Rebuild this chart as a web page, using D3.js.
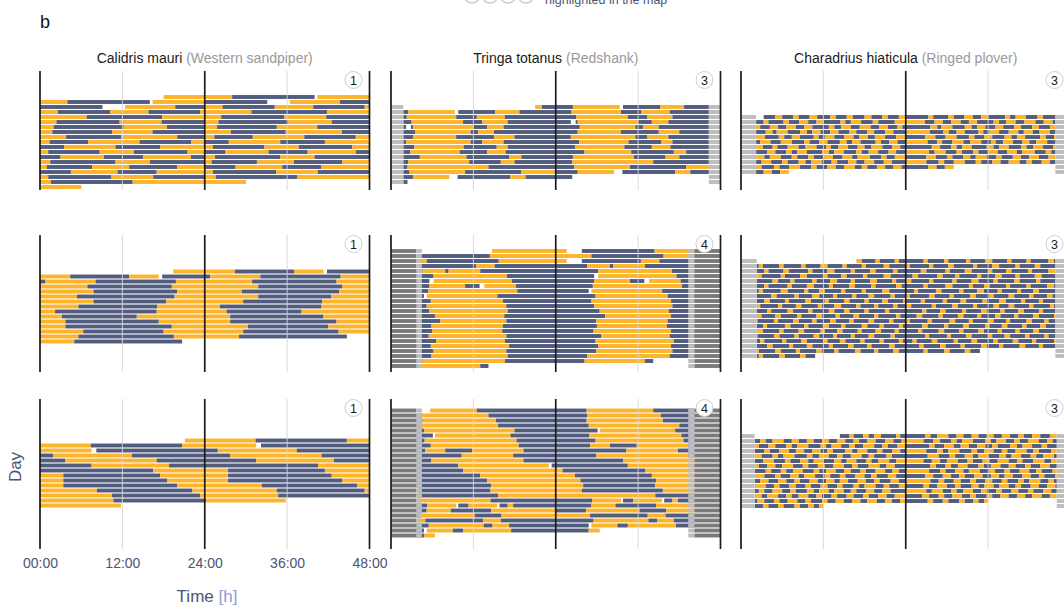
<!DOCTYPE html>
<html>
<head>
<meta charset="utf-8">
<script src="https://cdn.jsdelivr.net/npm/d3@7"></script>
<style>
  body { margin: 0; background: #fff; }
  svg { display: block; }
  text { font-family: "Liberation Sans", Arial, sans-serif; }
</style>
</head>
<body>
<svg id="chart" width="1064" height="607"></svg>
<script>
// Each day: run-length tokens "<state><end hour>", state o = active, b = resting, - = no data.
// Rows are double-plotted: row k shows day k (0-24 h) followed by day k+1 (24-48 h).

const calidrisA = [
  "-18 o24",
  "o4 b16 -16.4 o24",
  "b9.1 -12.4 o19.7 b24",
  "o2.6 b10.2 o15.8 b23.3 o24",
  "o6.8 b17.8 o24",
  "o2.4 b11.6 o17.7 b24",
  "o2 b12.2 o18.5 b24",
  "o1.8 b10.5 o16.4 b24",
  "o3.8 b11.8 o20 b24",
  "o1.4 b7 o14.5 b22 o24",
  "b3.5 o11 b17.5 o24",
  "o1.2 b8.7 o13.7 b21.5 o24",
  "b3 o9.3 b15 o22 b24",
  "o1.5 b11 o16 b24",
  "o1 b7.6 o13 b20 o24",
  "b4.5 o11.3 b17 o24",
  "o1.2 b10.4 o16.5 b24",
  "o1.6 b13.5 o24",
  "o6"
];
const calidrisB = [
  "-19.4 o24",
  "o4.4 b13 o17.3 -17.8 b24",
  "b0.8 o8.1 b19.8 o24",
  "o6.9 b19.2 o24",
  "o7.8 b20 o24",
  "o5.4 b19.6 o24",
  "o7.8 b18.4 o24",
  "o5.6 b17.1 o24",
  "o2.2 b17 o24",
  "o3.2 b14.1 o24",
  "o3.7 b17.3 o24",
  "o3.7 b19.2 o24",
  "o6.3 b18 o24",
  "o5.6 b19.5 o24",
  "o5 b20.7"
];
const calidrisC = [
  "-21.1 o24",
  "o7.4 b20.7 o24",
  "o7.5 -8.2 b24",
  "b1.9 o13.4 b24",
  "b3.7 o17 b24",
  "b7.5 o18.8 b24",
  "b16.5 o24",
  "o3.4 b17.5 o24",
  "o3.4 b18.5 o24",
  "o3.4 b20 o24",
  "o8.3 b22.2 o24",
  "o10.5 b23.3 o24",
  "o10.7 b24",
  "b0.2 o11.8"
];

const tringaA = [
  "-21 o22 b24",
  "b2.5 o9.3 -9.8 b15.2 o18.7 b24",
  "b2.3 o9.5 b12.5 o16.6 b24",
  "b3 o10.5 b13.3 o17 b24",
  "b2.2 -2.9 b3.2 o12 b14 o16.4 b24",
  "b3.5 o11.6 b12.7 o15 b24",
  "b3.2 o9.5 b15 o18 b24",
  "b2.2 o11.6 b13.3 o16.4 b24",
  "b3.4 o10.6 b15.4 o17 b24",
  "b2.8 o10 b14 o16.7 b24",
  "b4.2 o11 b17.2 o19 b24",
  "b2.5 o11.4 b16 o18 b24",
  "b2.4 o14.2 b24",
  "b2.7 o10.8 b19 o24",
  "b3.2 o8.5 -9.7 b17.4 o19.6 b24",
  "b2.4"
];
const tringaB = [
  "-14.7 o24",
  "o1.6 -3.8 b14.4 o24",
  "o5.2 b15.7 o24",
  "o1.6 -3.8 b12.4 o15.1 b24",
  "b4.6 o7.9 b8.4 o13 b24",
  "b6.2 o16.9 b24",
  "b5.6 -6.2 o17.6 b24",
  "b5.6 o10.8 b12.9 -13.6 o18.2 b24",
  "b5.4 o18.4 b24",
  "b4.8 -5.2 o15.5 b24",
  "b5.8 o16.3 b24",
  "b5.2 o16.8 b24",
  "b5.6 o17 b24",
  "b6.4 o16.5 b24",
  "b7.2 o16.8 b24",
  "b5.9 o16.3 b24",
  "b6 o16.2 b24",
  "b5.5 o16.8 b24",
  "b6.6 o16.6 b24",
  "b5.8 o17.2 b24",
  "b6.2 o16.8 b24",
  "b5.9 o17 b24",
  "b4.6 o16.6 b24",
  "b4.2 o13 b14.2"
];
const tringaC = [
  "-5.7 o12.5 b24",
  "b4.5 o14.2 b24",
  "b4.6 o15.3 b24",
  "b4.5 o15.6 b24",
  "b4.8 o18 b24",
  "b6.1 -6.4 o17.4 b24",
  "b4.9 o18.3 b24",
  "b5.8 o18.6 b24",
  "b5 o7.9 b11.8 o19.3 b24",
  "b10.3 o17.8 b24",
  "b5.9 o19.3 b24",
  "b9.8 o23 -23.4 b24",
  "b10.5 o24",
  "o1 b13 o24",
  "o2.8 b14 o24",
  "o3.6 b14.6 o24",
  "o4 b14.5 o24",
  "o3.8 b15.6 o24",
  "o14.5 b24",
  "b5.3 o9.5 -9.8 b11.3 o15.5 -15.8 b17 o17.8 b24",
  "b5.2 o8.7 b14.6 o24",
  "b4.4 o12.2 b16.1 o24",
  "o5 b13.4 o16 b24",
  "b5.5 o13.5 b14.8 o17.2 b24",
  "b4.8 -5.2 o9 b10.5 o17.5 b24",
  "b4.8 o6.4"
];

const charadriusA = [
  "-3.3 b5 o6 b7.6 o8.4 b10 o11.1 b13 o13.8 b15.4 o16.3 b18 o19 b20.6 o21.4 b23 o24",
  "b3.3 o4 b6.2 o7 b8.5 o9.8 b11 o12 b14.5 o15.2 b16 o17.5 b19.2 o20 b22.4 o24",
  "o2.8 b4.2 o5.4 b6.6 o8 b9.2 o10.4 b12.8 o13.6 b14.6 o16 b17.3 o18.9 b20.1 o21.4 b22.8 o23.5 b24",
  "b3.6 o4.6 b5.2 o6.8 b8.6 o9.6 b10.4 o11.6 b13 o14.2 b15.8 o16.8 b18.4 o19.4 b21 o22.2 b24",
  "o3.5 b5.5 o6.3 b7.4 o8.6 b10.6 o11.3 b12.2 o13.6 b15 o16.4 b17.2 o18.5 b19.5 o21 b22.6 o24",
  "b2.8 o4.3 b5.8 o7.4 b9.2 o10 b11.4 o12.6 b14.4 o15.4 b16.2 o17.4 b19.6 o20.4 b21.6 o22.8 b24",
  "o3.2 b4.6 o5.3 b6.8 o8.4 b9.4 o11 b12.4 o13.1 b14.2 o15.6 b17 o18 b19 o20.6 b22 o23.2 b24",
  "b3.8 o5 b6.6 o7.4 b8.2 o9.6 b11.8 o12.8 b13.6 o15 b16.8 o17.6 b18.6 o20 b21.5 o22.6 b24",
  "o3.4 b4.2 o5.8 b7.4 o8.2 b9.8 o10.6 b12 o13.4 b14.8 o16.2 b17 o18.8 b20.4 o21.2 b22.4 o24",
  "b3 o4.4 b6 o6.8 b8.4 o9.4 b10.2 o11.8 b13.2 o14 b15.6 o16.8 b18 o19.4 b20.8 o22 b24",
  "o3 b4.8 o5.6 b7 o8.6 b10.2 o11 b12.6 o13.8 b15 o16.6 b17.6 o18.4 b19.8 o21 b22.2 o23.4 b24",
  "b3.3 o4.5 b5.7 o7"
];
const charadriusB = [
  "-16.8 o17.6 b19.6 o20.2 b22.4 o23 b24",
  "b2.6 o3.2 b5.6 o6.2 b8.8 o9.4 b11.6 o12.6 b14.8 o15.4 b17.6 o18.2 b20.8 o21.6 b24",
  "o0.6 b3.4 o4 b6.2 o7 b9.8 o10.4 b12.6 o13.6 b16 o16.6 b18.8 o19.6 b22.2 o22.8 b24",
  "b2.2 o3 b5.8 o6.4 b8.6 o9.6 b12 o12.6 b14.6 o15.4 b17.8 o18.4 b20.8 o21.8 b24",
  "b1 o1.8 b4.6 o5.4 b7.2 o7.8 b10.4 o11 b13 o14 b16 o16.6 b18.8 o19.8 b22 o22.6 b24",
  "o0.8 b3.4 o4 b6.8 o7.4 b9.6 o10.6 b12.8 o13.4 b15.8 o16.6 b19 o19.6 b22.6 o23.4 b24",
  "b2.6 o3.2 b5.8 o6.8 b9.2 o9.8 b11.4 o12.2 b14.6 o15.2 b17.6 o18.2 b20.6 o21.6 b24",
  "b1.2 o1.8 b4.4 o5.2 b7.8 o8.4 b10.4 o11.4 b13.4 o14 b16.2 o16.8 b18.6 o19.4 b21.8 o22.4 b24",
  "o0.6 b3.4 o4.2 b6.4 o7 b9.4 o10.2 b12.2 o12.8 b15 o15.8 b18 o18.6 b20.6 o21.4 b23.6 o24",
  "b2.2 o2.8 b5.4 o6 b8 o8.8 b11.2 o11.8 b13.6 o14.6 b16.8 o17.4 b19.4 o20 b22.2 o22.8 b24",
  "o0.8 b3.8 o4.4 b6.8 o7.6 b9.8 o10.4 b12.8 o13.6 b15 o15.8 b18 o18.6 b21 o21.6 b24",
  "b2.4 o3 b5 o5.8 b8.2 o8.8 b11 o11.8 b13.8 o14.4 b16.4 o17.2 b19.4 o20 b22.6 o23.2 b24",
  "b1.6 o2.4 b4.8 o5.4 b7.6 o8.4 b10.4 o11 b13 o13.8 b15.8 o16.4 b18.6 o19.4 b21.6 o22.2 b24",
  "o0.6 b3.2 o3.8 b6.4 o7.2 b9.2 o9.8 b12 o12.8 b14.6 o15.2 b17.6 o18.4 b20.2 o20.8 b23 o23.6 b24",
  "b2.4 o3.2 b5.6 o6.2 b8.4 o9.2 b11.6 o12.2 b14 o14.8 b17 o17.6 b19.6 o20.4 b22.4 o23 b24",
  "b1.8 o2.4 b4.8 o5.6 b7.8 o8.4 b10.6 o11.4 b13.4 o14 b16 o16.6 b18.6 o19.4 b21.8 o22.4 b24",
  "b2.8 o3.4 b6 o6.6 b8.8 o9.6 b12 o12.6 b14.4 o15.2 b17.4 o18 b20.2 o20.8 b23 o23.6 b24",
  "b1 o1.6 b3.8 o4.6 b7 o7.6 b9.6 o10.4 b12.8 o13.4 b15.6 o16.4 b18.4 o19 b21.6 o22.4 b24",
  "b2 o2.6 b5 o5.8 b8 o8.6 b11 o11.8 b13.6 o14.2 b16.6 o17.4 b19.4 o20 b22.2 o23 b24",
  "b2.6 o3.2 b5.6 o6.4 b8.6 o9.4 b10.8"
];
const charadriusC = [
  "-14.4 b15.8 o16.4 b17.8 o18.6 b19.4 o20.4 b22.6 o23.2 b24",
  "b2.8 o3.6 b4.6 o6.2 b7.4 o8.4 b9.6 o10.6 b11.8 o12.8 b14 o15.2 b16.4 o17.2 b18.4 o19.6 b21 o22.2 b23.4 o24",
  "o2.6 b4 o5 b6.6 o7.4 b8.2 o9.8 b11.6 o12.4 b13.2 o14.6 b15.8 o16.6 b17.8 o19.4 b20.6 o21.4 b22.8 o24",
  "b3.4 o4.2 b5.6 o7 b8 o9.2 b10.4 o11.6 b12.6 o13.4 b15.2 o16.2 b17 o18.4 b19.8 o20.6 b22 o23.2 b24",
  "o3 b4.6 o5.4 b6.2 o7.8 b9.6 o10.4 b11.4 o12.8 b14 o14.8 b16 o17.6 b18.6 o19.4 b21.2 o22 b24",
  "b3.2 o4.8 b6.4 o7.2 b8.6 o9.8 b10.6 o12 b13.6 o14.6 b15.4 o16.8 b18.2 o19 b20 o21.6 b22.6 o24",
  "o2.6 b3.8 o5 b6 o7.6 b9 o9.8 b11.2 o12.2 b13.4 o15 b16.2 o17 b18.6 o20.2 b21.2 o22.4 b24",
  "b3.6 o4.4 b5.8 o6.6 b7.6 o9 b10.6 o11.4 b12.4 o13.8 b15 o16 b17.4 o18.2 b19.6 o21 b22 o23 b24",
  "o3.4 b5 o5.8 b7.2 o8.4 b9.2 o10.8 b12.2 o13 b14.4 o15.2 b16.6 o18 b19 o19.8 b21.4 o22.6 b24",
  "b2.8 o4 b5.4 o6.6 b7.8 o8.6 b10 o11.2 b12.4 o13.6 b14.4 o15.6 b17 o18.2 b19.4 o20.2 b21.8 o23 b24",
  "o3.6 b4.8 o5.6 b7 o8 b9.4 o10.2 b11.6 o12.6 b14 o14.8 b16.4 o17.2 b18 o19.6 b20.8 o21.6 b23 o24",
  "b2.6 o3.4 b4.6 o6 b7.2 o8 b9.6 o10.6 b11.4 o12.8 b13.6 o15 b16 o16.8 b18.2 o19.4 b20.6 o21.8 b24",
  "o3 b3.8 o5.4 b6.6 o7.4 b8.4 o9.8 b11 o11.8 b13.2 o14 b15.4 o16.4 b17.8 o18.6 b20 o21.2 b22.4 o24",
  "b2.4 o3.4 b4.8 o5.6 b6.8 o8.2 b9.4 o10.2 b11.8 o12.6 b13.8 o15 b16.2 o17.4 b18.4 o19.8 b21 o22 b23.2 o24",
  "b3.2 o4 b5.4 o6.2 b7.8 o8.6 b9.8 o10.6 b11.4 o12"
];

// Shaded spans drawn on every row, in hours: [kind, from, to]; g = light, d = dark.
const shadeTringaA = [["g", 0, 1.8], ["g", 46.3, 48]];
const shadeTringaBC = [["d", 0, 3.7], ["g", 3.7, 4.5], ["g", 43.3, 44.2], ["d", 44.2, 48]];
const shadeCharadriusA = [["g", 0, 2.2], ["g", 45.8, 48]];
const shadeCharadriusB = [["g", 0, 2.3], ["g", 45.8, 48]];
const shadeCharadriusC = [["g", 0, 2.0], ["g", 46.0, 48]];

const speciesNames = [
  ["Calidris mauri", "(Western sandpiper)"],
  ["Tringa totanus", "(Redshank)"],
  ["Charadrius hiaticula", "(Ringed plover)"]
];
const badgeNumbers = [[1, 3, 3], [1, 4, 3], [1, 4, 3]];
const tickHours = [0, 12, 24, 36, 48];
const tickLabels = ["00:00", "12:00", "24:00", "36:00", "48:00"];

// grid of panels: [row][col]
const panelData = [
  [calidrisA, tringaA, charadriusA],
  [calidrisB, tringaB, charadriusB],
  [calidrisC, tringaC, charadriusC]
];
const panelShade = [
  [[], shadeTringaA, shadeCharadriusA],
  [[], shadeTringaBC, shadeCharadriusB],
  [[], shadeTringaBC, shadeCharadriusC]
];

// ---------------- layout ----------------
const colX = [40, 391, 741];
const panelW = 329.5;
const rowTop = [71, 235, 399];
const rowBottom = [190, 372, 549];
const rowCenter = [[142, 144.5, 144.5], [306.5, 308.5, 308.5], [473, 473, 471]];
const rowStep = 5;

const colors = { o: "#fdb42b", b: "#515c7e", g: "#bdbdbd", d: "#7a7a7a" };
const slate = "#4b5474";

const svg = d3.select("#chart");

function parseDay(str) {
  let t = 0;
  return str.trim().split(/\s+/).map(tok => {
    const seg = { s: tok[0], a: t, b: +tok.slice(1) };
    t = seg.b;
    return seg;
  }).filter(d => d.s !== "-");
}

// letter and legend fragments at the top
svg.append("text").attr("x", 40).attr("y", 28).attr("font-size", 18).attr("fill", "#111").text("b");
[472, 490, 508, 526].forEach(cx => {
  svg.append("circle").attr("cx", cx).attr("cy", -5).attr("r", 8)
    .attr("fill", "#fff").attr("stroke", "#ccc").attr("stroke-width", 1.5);
});
svg.append("text").attr("x", 545).attr("y", 4).attr("font-size", 12.5).attr("fill", slate)
  .text("highlighted in the map");

// species titles
speciesNames.forEach((nm, c) => {
  const t = svg.append("text")
    .attr("x", colX[c] + panelW / 2).attr("y", 63)
    .attr("text-anchor", "middle").attr("font-size", 14);
  t.append("tspan").attr("fill", "#1a1a1a").text(nm[0]);
  t.append("tspan").attr("fill", "#999").text(" " + nm[1]);
});

const barsLayer = svg.append("g");
const shadeLayer = svg.append("g");
const lineLayer = svg.append("g");

panelData.forEach((rowPanels, r) => {
  rowPanels.forEach((days, c) => {
    const x = d3.scaleLinear().domain([0, 48]).range([colX[c], colX[c] + panelW]);
    const n = days.length;
    const cy = rowCenter[r][c];
    const y = d3.scaleBand().domain(d3.range(n))
      .range([cy - n * rowStep / 2, cy + n * rowStep / 2]).paddingInner(0.22).paddingOuter(0.11);
    const parsed = days.map(parseDay);

    // visible window between the shaded margins
    const shade = panelShade[r][c];
    const lo = d3.max(shade.filter(s => s[1] === 0), s => s[2]) || 0;
    const hi = d3.min(shade.filter(s => s[2] === 48), s => s[1]) || 48;

    // double plot rows
    const cells = [];
    const push = (k, s, off) => {
      const a = Math.max(lo, s.a + off), b = Math.min(hi, s.b + off);
      if (b > a) cells.push({ k, s: s.s, a, b });
    };
    d3.range(n).forEach(k => {
      parsed[k].forEach(s => push(k, s, 0));
      if (k + 1 < n) parsed[k + 1].forEach(s => push(k, s, 24));
    });
    barsLayer.append("g").selectAll("rect").data(cells).join("rect")
      .attr("x", d => x(d.a))
      .attr("width", d => x(d.b) - x(d.a))
      .attr("y", d => y(d.k))
      .attr("height", y.bandwidth())
      .attr("fill", d => colors[d.s]);

    // shaded margins on every row
    const shadeCells = [];
    d3.range(n).forEach(k => shade.forEach(s => shadeCells.push({ k, kind: s[0], a: s[1], b: s[2] })));
    shadeLayer.append("g").selectAll("rect").data(shadeCells).join("rect")
      .attr("x", d => x(d.a)).attr("width", d => x(d.b) - x(d.a))
      .attr("y", d => y(d.k)).attr("height", y.bandwidth())
      .attr("fill", d => colors[d.kind]);

    const g = lineLayer.append("g");
    // gridlines
    [12, 36].forEach(h => {
      g.append("line").attr("x1", x(h)).attr("x2", x(h))
        .attr("y1", rowTop[r]).attr("y2", rowBottom[r])
        .attr("stroke", "#d6d6d6").attr("stroke-width", 1).attr("opacity", 0.9);
    });
    [0, 24, 48].forEach(h => {
      g.append("line").attr("x1", x(h)).attr("x2", x(h))
        .attr("y1", rowTop[r]).attr("y2", rowBottom[r])
        .attr("stroke", "#1b1b1b").attr("stroke-width", 1.7);
    });

    // individual badge
    const bx = colX[c] + panelW - 16, by = rowTop[r] + 9;
    g.append("circle").attr("cx", bx).attr("cy", by).attr("r", 8.5)
      .attr("fill", "#fff").attr("stroke", "#cfcfcf").attr("stroke-width", 1);
    g.append("text").attr("x", bx).attr("y", by + 4.5).attr("text-anchor", "middle")
      .attr("font-size", 12.5).attr("fill", "#1a1a1a").text(badgeNumbers[r][c]);

    // time axis under the first column of the last row
    if (r === 2 && c === 0) {
      const axis = d3.axisBottom(x).tickValues(tickHours)
        .tickFormat((d, i) => tickLabels[i]).tickSize(0).tickPadding(9);
      const ag = svg.append("g").attr("transform", `translate(0,${rowBottom[r]})`).call(axis);
      ag.select(".domain").remove();
      ag.selectAll("text").attr("font-size", 14).attr("fill", slate)
        .attr("font-family", '"Liberation Sans", Arial, sans-serif');
    }
  });
});

// axis titles
const tt = svg.append("text").attr("x", 207).attr("y", 602).attr("text-anchor", "middle").attr("font-size", 17);
tt.append("tspan").attr("fill", slate).text("Time ");
tt.append("tspan").attr("fill", "#8d9bd3").text("[h]");
svg.append("text").attr("transform", "translate(21,467) rotate(-90)")
  .attr("text-anchor", "middle").attr("font-size", 17).attr("fill", slate).text("Day");
</script>
</body>
</html>
